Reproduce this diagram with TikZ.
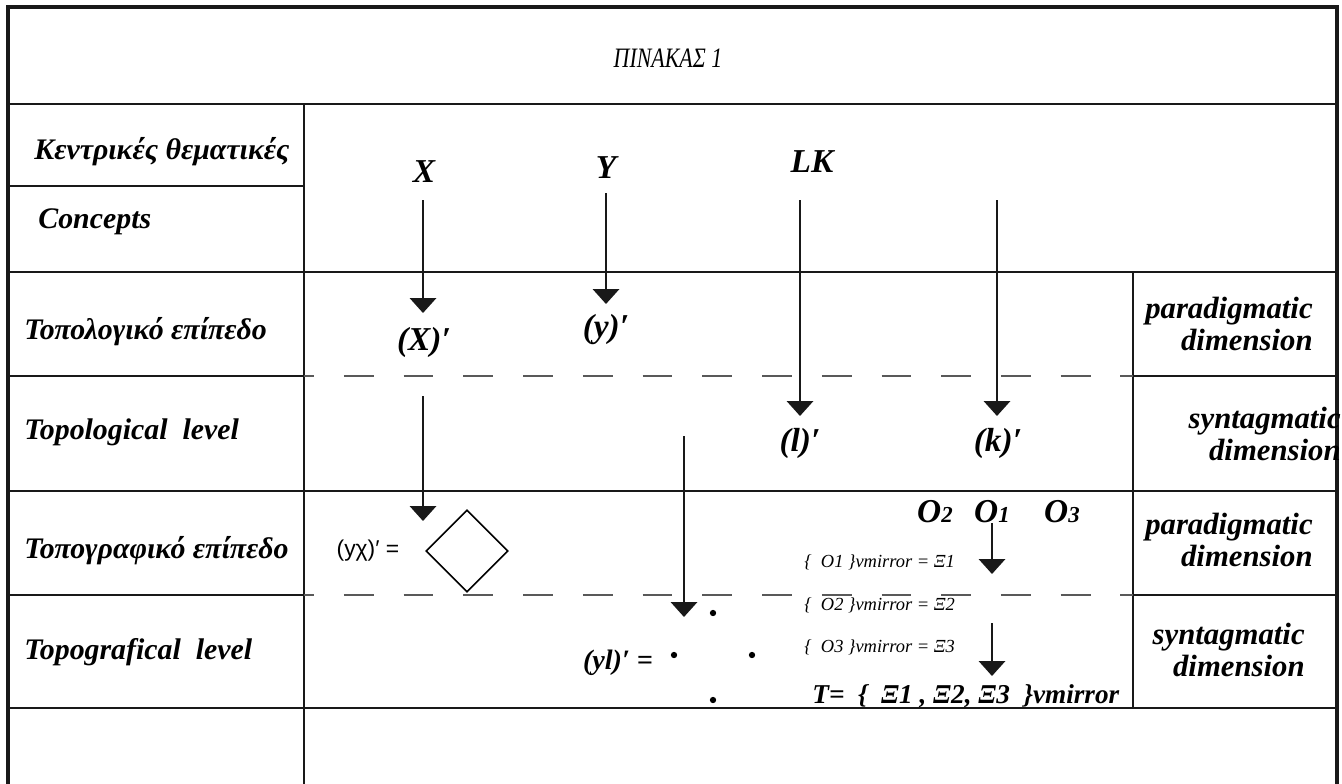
\documentclass[tikz,border=0pt]{standalone}
\usepackage{fontspec}
\setmainfont{Liberation Serif}
\newfontfamily\plainsans{Liberation Sans}
\usetikzlibrary{arrows.meta,shapes.geometric}

\tikzset{
  frame/.style={line width=2pt, black!90},
  rule/.style={line width=1.2pt, black!90},
  split/.style={line width=0.8pt, gray!70!black, dash pattern=on 17pt off 17pt, dash phase=11.3pt},
  flow/.style={line width=1.2pt, black!90, -{Triangle[width=15pt,length=8.5pt]}},
  rowlabel/.style={anchor=west, inner sep=0pt, font=\fontsize{17}{20}\selectfont\bfseries\itshape},
  dimlabel/.style={anchor=east, align=right, inner sep=0pt, font=\fontsize{17.5}{18.5}\selectfont\bfseries\itshape},
  concept/.style={inner sep=0pt, font=\fontsize{19}{22}\selectfont\bfseries\itshape},
  mirror/.style={anchor=west, inner sep=0pt, font=\fontsize{10.5}{12}\selectfont\itshape},
}

\begin{document}
\begin{tikzpicture}[x=0.02cm, y=-0.02cm]
  \useasboundingbox (0,0) rectangle (1342,784);

  % table lines
  \draw[frame] (8,784) -- (8,7) -- (1337,7) -- (1337,784);
  \draw[line width=1.6pt, black!90] (8,104) -- (1337,104);
  \draw[rule] (304,104) -- (304,784);
  \draw[rule] (8,186) -- (304,186);
  \draw[rule] (8,272) -- (1337,272);
  \draw[rule] (8,491) -- (1337,491);
  \draw[rule] (8,708) -- (1337,708);
  \draw[rule] (1133,272) -- (1133,708);
  \draw[rule] (8,376) -- (304,376) (1133,376) -- (1337,376);
  \draw[rule] (8,595) -- (304,595) (1133,595) -- (1337,595);
  \draw[split] (304,376) -- (1133,376);
  \draw[split] (304,595) -- (1133,595);

  % title
  \node[inner sep=0pt, font=\fontsize{16}{18}\selectfont\itshape, xscale=0.78] (title) at (668,58) {ΠΙΝΑΚΑΣ 1};

  % row labels
  \node[rowlabel] (kentr) at (34,152) {Κεντρικές θεματικές};
  \node[rowlabel] (conc) at (38,222) {Concepts};
  \node[rowlabel] (topol-gr) at (24,332) {Τοπολογικό επίπεδο};
  \node[rowlabel] (topol-en) at (24,432) {Topological\ \ level};
  \node[rowlabel] (topog-gr) at (24,551) {Τοπογραφικό επίπεδο};
  \node[rowlabel] (topog-en) at (24,652) {Topografical\ \ level};

  % dimensions
  \node[dimlabel] (dim1) at (1313,324) {paradigmatic\\dimension};
  \node[dimlabel] (dim2) at (1341,434) {syntagmatic\\dimension};
  \node[dimlabel] (dim3) at (1313,540) {paradigmatic\\dimension};
  \node[dimlabel] (dim4) at (1305,650) {syntagmatic\\dimension};

  % concepts
  \node[concept] (X) at (424,172) {X};
  \node[concept] (Y) at (606,168) {Υ};
  \node[concept] (LK) at (812,162) {LK};
  \node[concept] (Xp) at (424,342) {(X)′};
  \node[concept] (yp) at (606,330) {(y)′};
  \node[concept] (lp) at (800,443) {(l)′};
  \node[concept] (kp) at (998,443) {(k)′};

  \coordinate (X-a) at (423,200);  \coordinate (X-b) at (423,313);
  \coordinate (Y-a) at (606,193);  \coordinate (Y-b) at (606,304);
  \coordinate (l-a) at (800,200);  \coordinate (l-b) at (800,416);
  \coordinate (k-a) at (997,200);  \coordinate (k-b) at (997,416);
  \coordinate (X2-a) at (423,396); \coordinate (X2-b) at (423,521);
  \coordinate (yl-a) at (684,436); \coordinate (yl-b) at (684,617);
  \coordinate (O1-a) at (992,523); \coordinate (O1-b) at (992,574);
  \coordinate (O3-a) at (992,623); \coordinate (O3-b) at (992,676);

  \draw[flow] (X-a) -- (X-b);
  \draw[flow] (Y-a) -- (Y-b);
  \draw[flow] (l-a) -- (l-b);
  \draw[flow] (k-a) -- (k-b);
  \draw[flow] (X2-a) -- (X2-b);
  \draw[flow] (yl-a) -- (yl-b);
  \draw[flow] (O1-a) -- (O1-b);
  \draw[flow] (O3-a) -- (O3-b);

  % topographical level
  \node[inner sep=0pt, font=\fontsize{13}{15}\selectfont\plainsans] (yx) at (368,551) {(yχ)′ =};
  \node[draw, diamond, line width=0.9pt, minimum width=1.64cm, minimum height=1.64cm, inner sep=0pt] (sq) at (467,551) {};
  \node[concept, font=\fontsize{16}{18}\selectfont\bfseries\itshape] (yl) at (618,663) {(yl)′ =};
  \foreach \px/\py in {713/613, 674/655, 752/655, 713/700}
    \fill (\px,\py) circle[radius=1.8pt];

  \node[concept, font=\fontsize{19}{20}\selectfont\bfseries\itshape] (O2) at (935,512) {O{\fontsize{13}{14}\selectfont 2}};
  \node[concept, font=\fontsize{19}{20}\selectfont\bfseries\itshape] (O1) at (992,512) {O{\fontsize{13}{14}\selectfont 1}};
  \node[concept, font=\fontsize{19}{20}\selectfont\bfseries\itshape] (O3) at (1062,512) {O{\fontsize{13}{14}\selectfont 3}};

  \node[mirror] (m1) at (804,562) {\{\ \ O1 \}vmirror = Ξ1};
  \node[mirror] (m2) at (804,605) {\{\ \ O2 \}vmirror = Ξ2};
  \node[mirror] (m3) at (804,647) {\{\ \ O3 \}vmirror = Ξ3};
  \node[mirror, font=\fontsize{15.5}{17}\selectfont\bfseries\itshape] (T) at (812,696) {T=\ \ \{\ \ Ξ1 , Ξ2, Ξ3\ \ \}vmirror};
\end{tikzpicture}
\end{document}
